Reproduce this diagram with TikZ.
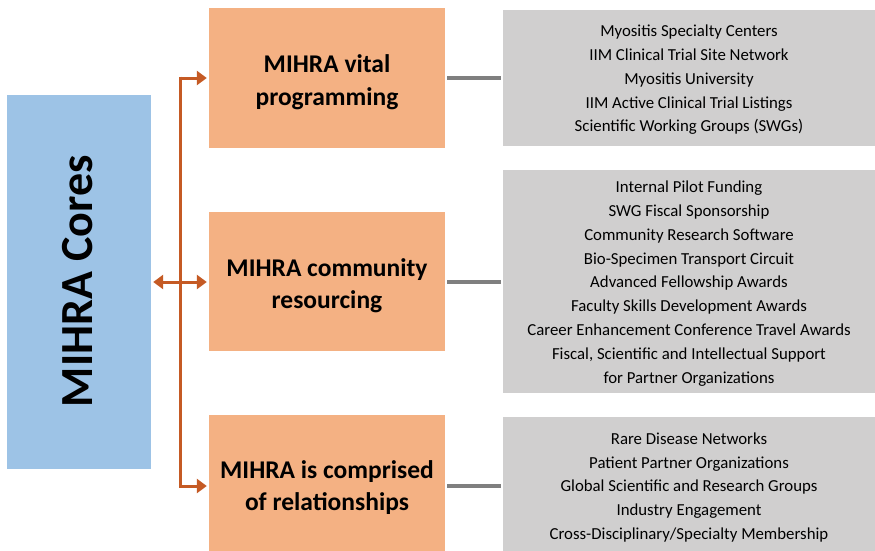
\documentclass[tikz,border=0pt]{standalone}
\usepackage{fontspec}
\setmainfont{Carlito}
\usetikzlibrary{arrows.meta,calc}
\definecolor{coreblue}{HTML}{9DC3E6}
\definecolor{coreorange}{HTML}{F4B183}
\definecolor{coregray}{HTML}{D0CFCF}
\definecolor{arrowor}{HTML}{C55A24}
\definecolor{linegray}{HTML}{7F7F7F}
\newcommand{\topstrutO}{\rule{0pt}{26pt}}
\newcommand{\topstrutG}{\rule{0pt}{15.5pt}}
\begin{document}
\begin{tikzpicture}[x=1pt,y=-1pt,
  corebox/.style={fill=coreblue,draw=none,inner sep=0pt},
  obox/.style={fill=coreorange,draw=none,inner sep=0pt,minimum width=236pt,align=center,
     font=\fontsize{25.5}{32.5}\selectfont\bfseries},
  gbox/.style={fill=coregray,draw=none,inner sep=0pt,minimum width=372pt,align=center,
     font=\fontsize{16.8}{23.8}\selectfont},
  oarrow/.style={draw=arrowor,line width=3pt,shorten >=2pt,-{Triangle[length=10pt,width=14pt]}},
  oline/.style={draw=arrowor,line width=3pt},
  gline/.style={draw=linegray,line width=3.5pt}]
\useasboundingbox (0,0) rectangle (875,550);
\fill[white] (0,0) rectangle (875,550);
\begin{scope}
\clip (0,0) rectangle (875,550);
\node[corebox,minimum width=144pt,minimum height=374pt] (core) at (79,282) {};
\node[rotate=90,font=\fontsize{46}{50}\selectfont\bfseries] (coretxt) at (78,281) {MIHRA Cores};
\node[obox,minimum height=140pt] (o1) at (327,78) {\topstrutO MIHRA vital\\programming};
\node[obox,minimum height=139pt] (o2) at (327,281.5) {\topstrutO MIHRA community\\resourcing};
\node[obox,minimum height=137pt] (o3) at (327,483.5) {\topstrutO MIHRA is comprised\\of relationships};
\node[gbox,minimum height=136pt] (g1) at (689,78) {\topstrutG Myositis Specialty Centers\\IIM Clinical Trial Site Network\\Myositis University\\IIM Active Clinical Trial Listings\\Scientific Working Groups (SWGs)};
\node[gbox,minimum height=223pt] (g2) at (689,281.5) {\topstrutG Internal Pilot Funding\\SWG Fiscal Sponsorship\\Community Research Software\\Bio-Specimen Transport Circuit\\Advanced Fellowship Awards\\Faculty Skills Development Awards\\Career Enhancement Conference Travel Awards\\Fiscal, Scientific and Intellectual Support\\for Partner Organizations};
\node[gbox,minimum height=137pt] (g3) at (689,485.5) {\topstrutG Rare Disease Networks\\Patient Partner Organizations\\Global Scientific and Research Groups\\Industry Engagement\\Cross-Disciplinary/Specialty Membership};
\coordinate (j1) at (180,78);
\coordinate (j2) at (180,282);
\coordinate (j3) at (180,486);
\draw[oline] ($(j1)+(0,-1.5)$) -- ($(j3)+(0,1.5)$);
\draw[oarrow] (j1) -- (j1 -| o1.west);
\draw[oarrow] (j2) -- (j2 -| o2.west);
\draw[oarrow] (j3) -- (j3 -| o3.west);
\draw[oarrow] (j2) -- (j2 -| core.east);
\draw[gline] ($(o1.east)+(2,0)$) -- ($(g1.west)+(-2,0)$);
\draw[gline] ($(o2.east |- j2)+(2,0)$) -- ($(g2.west |- j2)+(-2,0)$);
\draw[gline] ($(o3.east |- j3)+(2,0)$) -- ($(g3.west |- j3)+(-2,0)$);
\end{scope}
\end{tikzpicture}
\end{document}
